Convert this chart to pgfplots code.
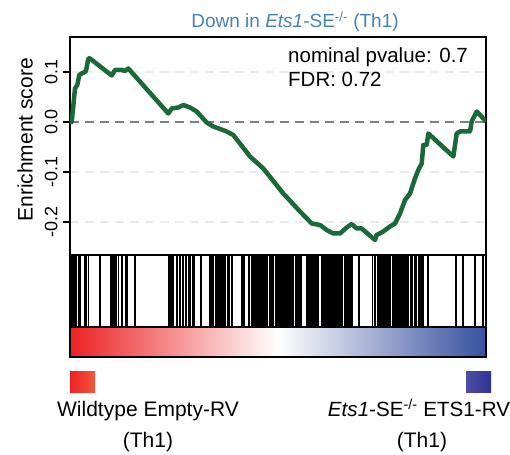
\documentclass[border=0pt]{standalone}
\usepackage{fontspec}
\setmainfont{Liberation Sans}
\usepackage{pgfplots}
\pgfplotsset{compat=1.18}
\usepackage{pgfplotstable}

\definecolor{esgreen}{RGB}{27,104,56}
\definecolor{ttlblue}{RGB}{70,130,180}
\definecolor{lowred}{RGB}{237,34,36}
\definecolor{highblue}{RGB}{55,80,160}
\definecolor{sqred}{RGB}{240,88,60}
\definecolor{sqblueA}{RGB}{76,80,166}
\definecolor{sqblueB}{RGB}{46,49,146}

% running enrichment score (x = rank position)
\pgfplotstableread{
x y
0 0
1.7 0.000
5 0.067
7.3 0.074
9.3 0.094
11.7 0.097
14 0.099
16 0.102
18.3 0.127
20 0.127
41.7 0.093
45 0.104
51.7 0.104
55 0.102
58.3 0.107
98.3 0.017
101.7 0.027
108.3 0.029
113.3 0.034
120 0.029
126.7 0.021
136.7 -0.001
143.3 -0.009
150 -0.014
156.7 -0.019
163.3 -0.026
180 -0.069
193.3 -0.093
213.3 -0.143
230 -0.179
241.7 -0.203
250 -0.206
256.7 -0.216
263.3 -0.223
270 -0.223
276.7 -0.211
281.7 -0.204
286.7 -0.213
291.7 -0.213
305 -0.236
306.7 -0.226
313.3 -0.219
320 -0.209
325 -0.203
330 -0.183
335 -0.156
340 -0.143
345 -0.113
348.3 -0.096
351.7 -0.083
353.3 -0.046
356.7 -0.046
358.3 -0.023
383.3 -0.069
386.7 -0.023
390 -0.019
400 -0.019
401.7 0.001
406.7 0.021
410 0.014
416 0.001
}\esdata

\begin{document}
\begin{tikzpicture}[x=1pt,y=1pt]

% main panel
\begin{axis}[
  at={(70pt,199pt)}, anchor=south west,
  width=416pt, height=218pt, scale only axis,
  xmin=0, xmax=416, ymin=-0.266, ymax=0.17,
  xtick=\empty,
  ytick={-0.2,-0.1,0,0.1},
  yticklabels={-0.2,-0.1,0.0,0.1},
  ytick pos=left,
  tick align=outside,
  major tick length=7pt,
  yticklabel style={xshift=-2pt, rotate=90, anchor=south, font=\fontsize{18}{20}\selectfont},
  axis line style={line width=1.3pt},
  every tick/.style={black, line width=1.2pt},
  ymajorgrids,
  grid style={dash pattern=on 9pt off 6pt, color=black!8, line width=1.2pt},
  ylabel={Enrichment score},
  ylabel style={at={(axis description cs:-0.108,0.528)}, anchor=center, rotate=0, font=\fontsize{21}{23}\selectfont},
]
\addplot[color=black!50, line width=1.8pt, dash pattern=on 9pt off 6pt, mark=none] coordinates {(0,0) (416,0)};
\addplot[color=esgreen, line width=4.5pt, line join=round, mark=none] table {\esdata};
\end{axis}

% hits (barcode)
\begin{axis}[
  at={(70pt,127pt)}, anchor=south west,
  width=416pt, height=72pt, scale only axis,
  xmin=0, xmax=416, ymin=0, ymax=1,
  ticks=none,
  axis line style={line width=1.3pt},
]
\addplot[ycomb, black, line width=1.1pt, mark=none] coordinates {
(1,1) (2.5,1) (4,1) (6,1) (9,1) (10.5,1) (15,1) (16.5,1) (18.5,1) (30,1)
(41,1) (42,1) (43,1) (44,1) (45,1) (46.5,1) (48.5,1) (52,1) (56,1) (57.5,1)
(65,1) (98.5,1) (100,1) (101.5,1) (103,1) (107,1) (110,1) (113,1) (116,1)
(119,1) (120,1) (123,1) (124.5,1) (131,1) (140,1) (141,1) (142,1) (143.5,1)
(146,1) (147,1) (148,1) (150,1) (152,1) (153,1) (155,1) (158,1) (159,1)
(162,1) (172,1) (174,1) (179,1) (182,1) (183,1) (184,1) (186,1) (188,1)
(189,1) (190,1) (191,1) (193,1) (194,1) (195,1) (197,1) (200,1) (201,1)
(203,1) (205.5,1) (206,1) (207,1) (209,1) (210.5,1) (212,1) (213,1) (214,1)
(215,1) (216,1) (217,1) (218,1) (220,1) (221,1) (223,1) (226,1) (227,1)
(228,1) (230,1) (231.5,1) (237,1) (238.5,1) (240,1) (242,1) (243,1) (244,1)
(245,1) (246,1) (247,1) (248,1) (252,1) (253,1) (254,1) (255,1) (256,1)
(257,1) (258,1) (260,1) (262,1) (263.5,1) (265,1) (267,1) (268.5,1) (270,1)
(272,1) (275,1) (276.5,1) (278,1) (279.5,1) (281,1) (282,1) (289,1)
(302.5,1) (305,1) (308,1) (310,1) (311,1) (312.5,1) (314,1) (315,1) (317,1)
(319,1) (320.5,1) (323,1) (325,1) (327,1) (328,1) (330,1) (331.5,1) (333,1)
(334.5,1) (336,1) (338,1) (341,1) (342.5,1) (345,1) (346.5,1) (349,1)
(350.5,1) (352,1) (353,1) (358,1) (386,1) (393,1) (405,1) (413,1)
};
\end{axis}

% ranked list metric colour bar
\begin{axis}[
  at={(70pt,97pt)}, anchor=south west,
  width=416pt, height=30pt, scale only axis,
  xmin=0, xmax=416, ymin=0, ymax=1,
  ticks=none, axis on top,
  axis line style={line width=1.3pt},
]
\fill[left color=lowred, right color=highblue, middle color=white] (axis cs:0,0) rectangle (axis cs:416,1);
\end{axis}

% title and annotations
\node[anchor=base, text=ttlblue, font=\fontsize{19}{21}\selectfont] at (295,426)
  {Down in \textit{Ets1}-SE\textsuperscript{-/-} (Th1)};
\node[anchor=base west, inner sep=0pt, font=\fontsize{20.5}{22}\selectfont] at (288,391) {nominal pvalue: 0.7};
\node[anchor=base west, inner sep=0pt, font=\fontsize{20.5}{22}\selectfont] at (288,367) {FDR: 0.72};

% phenotype legend
\fill[left color=lowred, right color=sqred] (70,61) rectangle (95,82);
\fill[left color=sqblueA, right color=sqblueB] (466,61) rectangle (491,82);
\node[anchor=base, inner sep=0pt, font=\fontsize{21}{23}\selectfont] at (148,37) {Wildtype Empty-RV};
\node[anchor=base, inner sep=0pt, font=\fontsize{21}{23}\selectfont] at (148,7) {(Th1)};
\node[anchor=base, inner sep=0pt, font=\fontsize{20.6}{23}\selectfont] at (419,37) {\textit{Ets1}-SE\textsuperscript{-/-} ETS1-RV};
\node[anchor=base, inner sep=0pt, font=\fontsize{21}{23}\selectfont] at (422,7) {(Th1)};

\pgfresetboundingbox
\useasboundingbox (0,0) rectangle (510,454);
\end{tikzpicture}
\end{document}
